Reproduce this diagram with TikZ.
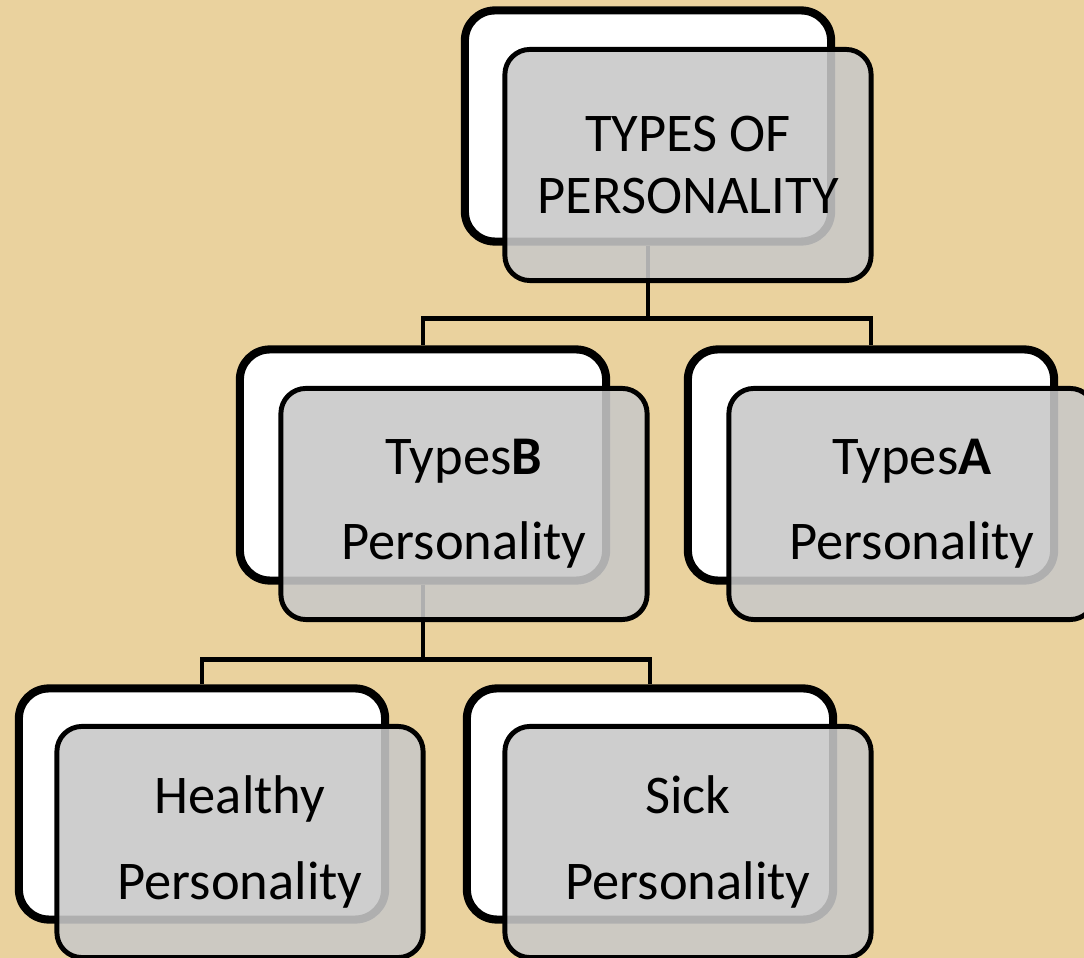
\documentclass[tikz,border=0pt]{standalone}
\usepackage{fontspec}
\setmainfont{Carlito}

\begin{document}
\begin{tikzpicture}[x=0.01cm,y=-0.01cm]

    % Define colors
    \definecolor{papyrus}{RGB}{234,210,158}
    \definecolor{cardgrey}{RGB}{200,200,200}

    \tikzset{
      backcard/.style={draw=black, line width=2.3pt, fill=white, rounded corners=0.3cm,
        minimum width=3.66cm, minimum height=2.31cm},
      frontcard/.style={draw=black, line width=1.4pt, fill=cardgrey, fill opacity=0.88,
        text opacity=1, rounded corners=0.25cm, minimum width=3.66cm, minimum height=2.31cm,
        align=center, font=\fontsize{15.5}{24.2}\selectfont},
      link/.style={line width=1.4pt}
    }

    \useasboundingbox (0,0) rectangle (1084,958);
    \clip (0,0) rectangle (1084,958);
    \fill[papyrus] (0,0) rectangle (1084,958);

    %-------------
    % White cards behind
    \node[backcard] (types) at (648,126) {};
    \node[backcard] (typeb) at (423,465) {};
    \node[backcard] (typea) at (871,465) {};
    \node[backcard] (healthy) at (202,804) {};
    \node[backcard] (sick) at (650,804) {};

    %-------------
    % Connectors
    \draw[link] (types.south) -- ++(0,73) -| (typeb.north);
    \draw[link] (types.south) -- ++(0,73) -| (typea.north);
    \draw[link] (typeb.south) -- ++(0,75) -| (healthy.north);
    \draw[link] (typeb.south) -- ++(0,75) -| (sick.north);

    %-------------
    % Grey cards in front
    \node[frontcard, font=\fontsize{15.5}{17.6}\selectfont] (typestext) at (688,165) {TYPES OF\\PERSONALITY};
    \node[frontcard] (typebtext) at (464,504) {Types\textbf{B}\\Personality};
    \node[frontcard] (typeatext) at (912,504) {Types\textbf{A}\\Personality};
    \node[frontcard] (healthytext) at (240,842) {Healthy\\Personality};
    \node[frontcard] (sicktext) at (688,842) {Sick\\Personality};

\end{tikzpicture}
\end{document}
